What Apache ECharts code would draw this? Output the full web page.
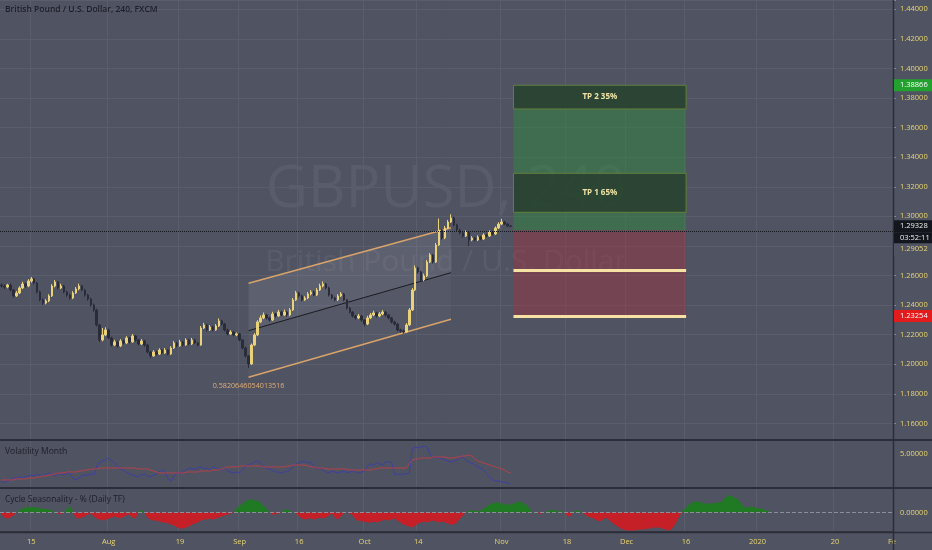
<!DOCTYPE html>
<html><head><meta charset="utf-8">
<script src="https://cdn.jsdelivr.net/npm/echarts/dist/echarts.min.js"></script>
<style>html,body{margin:0;padding:0;background:#505362;}#c{width:932px;height:550px;}</style>
</head><body><div id="c"></div><script>
// ---------- DATA ----------
const slotCount = 300; // half-day slots on the time axis
const timeTickSlots = [10, 36, 60, 80, 100, 122, 140, 168, 190, 210, 230, 254, 280];
const timeTickLabels = ['15', 'Aug', '19', 'Sep', '16', 'Oct', '14', 'Nov', '18', 'Dec', '16', '2020', '20'];

const opens = [
1.2535,1.2529,1.2522,1.2536,1.2502,1.2462,1.2482,1.2516,1.2543,1.2529,
1.2563,1.2577,1.2549,1.2489,1.2435,1.2414,1.2428,1.2462,1.2529,1.2556,
1.2516,1.2529,1.2489,1.2468,1.2448,1.2482,1.2509,1.2529,1.2502,1.2468,
1.2441,1.2401,1.2367,1.2266,1.2164,1.2198,1.2232,1.2178,1.2130,1.2151,
1.2124,1.2157,1.2144,1.2178,1.2151,1.2191,1.2164,1.2137,1.2157,1.2130,
1.2083,1.2056,1.2083,1.2069,1.2096,1.2076,1.2096,1.2069,1.2110,1.2144,
1.2124,1.2151,1.2130,1.2164,1.2137,1.2164,1.2144,1.2130,1.2245,1.2266,
1.2232,1.2252,1.2232,1.2259,1.2293,1.2272,1.2232,1.2205,1.2218,1.2198,
1.2205,1.2164,1.2110,1.2056,1.2002,1.2130,1.2198,1.2286,1.2313,1.2333,
1.2313,1.2299,1.2340,1.2326,1.2353,1.2333,1.2353,1.2333,1.2367,1.2435,
1.2482,1.2462,1.2435,1.2448,1.2475,1.2489,1.2468,1.2502,1.2529,1.2543,
1.2516,1.2468,1.2448,1.2435,1.2462,1.2475,1.2435,1.2380,1.2353,1.2326,
1.2313,1.2326,1.2299,1.2272,1.2313,1.2333,1.2347,1.2326,1.2340,1.2353,
1.2333,1.2313,1.2286,1.2272,1.2232,1.2225,1.2218,1.2266,1.2367,1.2502,
1.2651,1.2624,1.2570,1.2597,1.2691,1.2739,1.2691,1.2806,1.2908,1.2854,
1.2921,1.2962,1.2989,1.2942,1.2908,1.2888,1.2867,1.2894,1.2840,1.2854,
1.2840,1.2860,1.2847,1.2874,1.2867,1.2894,1.2881,1.2921,1.2948,1.2962,
1.2948,1.2935];
const closes = [
1.2529,1.2522,1.2536,1.2502,1.2462,1.2482,1.2516,1.2543,1.2529,1.2563,
1.2577,1.2549,1.2489,1.2435,1.2414,1.2428,1.2462,1.2529,1.2556,1.2516,
1.2529,1.2489,1.2468,1.2448,1.2482,1.2509,1.2529,1.2502,1.2468,1.2441,
1.2401,1.2367,1.2266,1.2164,1.2198,1.2232,1.2178,1.2130,1.2151,1.2124,
1.2157,1.2144,1.2178,1.2151,1.2191,1.2164,1.2137,1.2157,1.2130,1.2083,
1.2056,1.2083,1.2069,1.2096,1.2076,1.2096,1.2069,1.2110,1.2144,1.2124,
1.2151,1.2130,1.2164,1.2137,1.2164,1.2144,1.2130,1.2245,1.2266,1.2232,
1.2252,1.2232,1.2259,1.2293,1.2272,1.2232,1.2205,1.2218,1.2198,1.2205,
1.2164,1.2110,1.2056,1.2002,1.2130,1.2198,1.2286,1.2313,1.2333,1.2313,
1.2299,1.2340,1.2326,1.2353,1.2333,1.2353,1.2333,1.2367,1.2435,1.2482,
1.2462,1.2435,1.2448,1.2475,1.2489,1.2468,1.2502,1.2529,1.2543,1.2516,
1.2468,1.2448,1.2435,1.2462,1.2475,1.2435,1.2380,1.2353,1.2326,1.2313,
1.2326,1.2299,1.2272,1.2313,1.2333,1.2347,1.2326,1.2340,1.2353,1.2333,
1.2313,1.2286,1.2272,1.2232,1.2225,1.2218,1.2266,1.2367,1.2502,1.2651,
1.2624,1.2570,1.2597,1.2691,1.2739,1.2691,1.2806,1.2908,1.2854,1.2921,
1.2962,1.2989,1.2942,1.2908,1.2888,1.2867,1.2894,1.2840,1.2854,1.2840,
1.2860,1.2847,1.2874,1.2867,1.2894,1.2881,1.2921,1.2948,1.2962,1.2948,
1.2935,1.29328];
const highs = [
1.2548,1.2541,1.2544,1.2545,1.2510,1.2495,1.2527,1.2558,1.2552,1.2575,
1.2590,1.2584,1.2556,1.2497,1.2445,1.2440,1.2474,1.2541,1.2570,1.2563,
1.2545,1.2536,1.2498,1.2477,1.2494,1.2522,1.2545,1.2537,1.2510,1.2476,
1.2448,1.2410,1.2375,1.2272,1.2245,1.2250,1.2240,1.2186,1.2165,1.2160,
1.2170,1.2168,1.2190,1.2185,1.2204,1.2198,1.2172,1.2170,1.2165,1.2138,
1.2090,1.2095,1.2093,1.2108,1.2104,1.2110,1.2103,1.2122,1.2158,1.2152,
1.2165,1.2160,1.2176,1.2170,1.2178,1.2172,1.2150,1.2258,1.2280,1.2274,
1.2265,1.2260,1.2272,1.2310,1.2300,1.2280,1.2240,1.2230,1.2226,1.2215,
1.2212,1.2170,1.2118,1.2062,1.2140,1.2210,1.2298,1.2330,1.2350,1.2342,
1.2322,1.2355,1.2348,1.2368,1.2362,1.2370,1.2360,1.2380,1.2448,1.2496,
1.2490,1.2470,1.2460,1.2488,1.2502,1.2497,1.2515,1.2545,1.2560,1.2550,
1.2524,1.2476,1.2456,1.2474,1.2488,1.2482,1.2442,1.2388,1.2360,1.2334,
1.2340,1.2333,1.2306,1.2328,1.2346,1.2362,1.2355,1.2352,1.2366,1.2361,
1.2340,1.2320,1.2294,1.2280,1.2240,1.2236,1.2278,1.2380,1.2515,1.2668,
1.2660,1.2632,1.2612,1.2705,1.2752,1.2746,1.2820,1.2985,1.2915,1.2935,
1.2976,1.3014,1.2998,1.2950,1.2916,1.2895,1.2905,1.2900,1.2866,1.2862,
1.2872,1.2868,1.2885,1.2882,1.2905,1.2902,1.2932,1.2960,1.2983,1.2970,
1.2955,1.2942];
const lows = [
1.2518,1.2509,1.2514,1.2493,1.2450,1.2455,1.2474,1.2508,1.2517,1.2521,
1.2552,1.2540,1.2478,1.2426,1.2402,1.2405,1.2420,1.2455,1.2520,1.2506,
1.2508,1.2480,1.2456,1.2437,1.2440,1.2475,1.2500,1.2494,1.2457,1.2430,
1.2390,1.2355,1.2255,1.2150,1.2155,1.2190,1.2170,1.2118,1.2122,1.2112,
1.2116,1.2135,1.2136,1.2140,1.2145,1.2152,1.2128,1.2130,1.2118,1.2072,
1.2040,1.2050,1.2060,1.2062,1.2068,1.2070,1.2060,1.2063,1.2104,1.2115,
1.2118,1.2120,1.2125,1.2128,1.2130,1.2136,1.2120,1.2125,1.2238,1.2222,
1.2225,1.2224,1.2226,1.2252,1.2262,1.2222,1.2196,1.2198,1.2188,1.2190,
1.2155,1.2100,1.2045,1.1975,1.1995,1.2122,1.2190,1.2278,1.2305,1.2302,
1.2288,1.2292,1.2316,1.2320,1.2324,1.2326,1.2322,1.2325,1.2360,1.2428,
1.2452,1.2425,1.2428,1.2440,1.2466,1.2460,1.2461,1.2495,1.2520,1.2506,
1.2458,1.2438,1.2425,1.2428,1.2455,1.2426,1.2370,1.2343,1.2316,1.2302,
1.2305,1.2288,1.2255,1.2265,1.2305,1.2325,1.2316,1.2318,1.2332,1.2322,
1.2303,1.2276,1.2262,1.2222,1.2214,1.2208,1.2212,1.2260,1.2360,1.2495,
1.2612,1.2560,1.2562,1.2590,1.2684,1.2680,1.2685,1.2800,1.2842,1.2846,
1.2914,1.2955,1.2932,1.2898,1.2878,1.2855,1.2860,1.2800,1.2832,1.2830,
1.2833,1.2838,1.2840,1.2858,1.2860,1.2872,1.2874,1.2914,1.2940,1.2940,
1.2926,1.2926];

// Volatility Month pane
const volatility = [
0.89,0.89,1.04,1.19,1.48,1.48,1.63,1.48,1.63,1.78,1.93,1.78,2.08,1.78,1.78,
2.08,2.23,1.93,1.78,2.23,2.08,1.93,2.23,2.23,1.48,1.19,1.48,1.78,1.93,1.93,2.08,1.93,3.26,
3.86,4.01,4.15,4.45,4.01,3.71,3.12,2.82,2.67,2.37,
2.08,1.93,1.78,1.63,1.93,2.08,1.78,1.63,1.93,2.08,2.37,2.67,2.37,1.34,1.04,1.78,
2.23,2.23,2.37,2.67,2.97,2.82,2.82,2.97,
3.12,2.82,2.97,2.67,3.12,2.97,2.82,2.67,2.97,2.52,2.37,2.23,2.37,2.23,2.67,
3.26,3.41,3.56,3.86,4.01,3.71,3.12,2.97,2.82,2.67,2.37,2.37,2.23,2.37,2.52,2.67,
3.26,3.56,3.86,3.86,4.01,3.71,3.86,3.12,2.82,2.97,2.67,
2.37,2.23,2.52,2.37,2.23,2.37,2.52,2.23,2.37,2.52,2.37,2.23,2.37,2.52,
3.26,3.56,3.41,3.71,3.56,3.41,3.86,3.86,3.86,2.08,2.08,1.93,2.08,2.08,2.23,
5.79,6.08,5.93,6.08,6.23,6.08,4.90,4.45,4.60,4.45,4.30,4.15,4.01,3.86,
4.01,4.15,4.45,4.60,4.15,3.86,3.71,3.41,3.12,2.97,2.67,2.08,1.63,
1.19,1.04,1.04,0.89,0.89,0.74,0.59];
const volatilityAvg = [
1.19,1.19,1.19,1.19,1.19,1.34,1.34,1.34,1.34,1.48,1.48,1.48,1.63,1.63,1.78,1.78,
1.93,1.93,2.08,2.23,2.23,2.23,2.37,2.37,2.37,2.37,2.52,2.52,2.67,2.67,2.82,2.82,2.82,
2.97,2.97,2.97,2.97,2.97,2.97,2.97,2.97,2.97,2.97,2.97,2.97,2.97,
2.82,2.82,2.82,2.82,2.67,2.52,2.37,2.23,2.23,2.23,2.23,2.23,2.23,2.23,2.23,2.23,
2.37,2.37,2.37,2.37,2.37,2.52,2.52,2.52,2.52,2.67,2.67,2.67,2.82,2.97,
3.12,3.12,3.12,3.12,3.26,3.26,3.26,3.26,3.26,3.26,3.26,3.26,
3.12,3.12,3.12,3.12,3.12,3.12,3.12,3.12,3.26,3.26,3.41,3.41,3.41,3.41,3.41,
3.26,3.12,3.12,2.97,2.97,2.97,2.82,2.82,2.82,2.82,2.82,2.82,2.82,2.82,
2.67,2.67,2.67,2.67,2.67,2.67,2.67,2.67,2.82,2.82,
2.97,2.97,2.97,2.97,2.97,2.97,2.97,2.97,2.97,2.97,3.56,4.15,4.30,4.30,
4.45,4.45,4.45,4.45,4.60,4.60,4.60,4.60,4.60,4.45,4.45,4.45,4.60,4.60,4.75,4.75,
4.90,4.75,4.30,4.01,3.86,3.71,3.56,3.41,3.26,3.12,2.97,2.82,2.67,2.37,2.23];

// Cycle Seasonality - % pane
const seasonality = [
-0.1,-0.25,-0.3,-0.25,-0.15,0,0.1,0.2,0.25,0.25,
0.28,0.25,0.25,0.2,0.2,0.18,0.15,0.1,0,-0.05,
-0.1,0,0.2,0.3,0.05,-0.25,-0.3,-0.25,-0.2,-0.1,
-0.05,-0.2,-0.3,-0.35,-0.4,-0.35,-0.3,-0.25,-0.2,-0.25,
-0.3,-0.2,-0.15,-0.1,-0.25,-0.3,0,0.15,0,-0.25,
-0.35,-0.4,-0.4,-0.45,-0.5,-0.5,-0.55,-0.6,-0.65,-0.75,
-0.8,-0.8,-0.75,-0.7,-0.6,-0.55,-0.5,-0.4,-0.35,-0.35,
-0.3,-0.35,-0.3,-0.25,-0.2,-0.15,-0.1,-0.05,0,0.2,
0.35,0.45,0.55,0.65,0.65,0.6,0.6,0.5,0.35,0.2,
0,-0.1,-0.1,-0.05,0,0.15,0.15,0.1,0,-0.05,
-0.2,-0.3,-0.35,-0.3,-0.3,-0.35,-0.3,-0.25,-0.3,-0.25,
-0.15,-0.05,-0.25,-0.35,-0.2,-0.05,0,-0.05,-0.15,-0.35,
-0.4,-0.45,-0.45,-0.5,-0.5,-0.45,-0.5,-0.45,-0.4,-0.35,
-0.4,-0.35,-0.3,-0.4,-0.5,-0.6,-0.65,-0.7,-0.75,-0.65,
-0.55,-0.5,-0.45,-0.5,-0.45,-0.4,-0.45,-0.5,-0.45,-0.5,
-0.55,-0.6,-0.6,-0.5,-0.3,-0.15,0,0.1,0.1,0.1,
0.05,0.1,0.2,0.3,0.4,0.45,0.5,0.5,0.45,0.4,
0.4,0.4,0.45,0.5,0.55,0.5,0.4,0.3,0.05,0,
0,-0.1,0,0.05,0.1,0.15,0.1,0.05,0.1,0,
-0.15,-0.2,0,0.1,0.1,0,-0.1,-0.2,-0.25,-0.3,
-0.4,-0.45,-0.35,-0.25,-0.35,-0.5,-0.6,-0.7,-0.8,-0.85,
-0.9,-0.9,-0.9,-0.9,-0.85,-0.85,-0.85,-0.8,-0.8,-0.75,
-0.75,-0.75,-0.8,-0.85,-0.9,-0.85,-0.65,-0.4,-0.1,0.1,
0.25,0.4,0.5,0.55,0.55,0.5,0.45,0.45,0.45,0.45,
0.5,0.5,0.55,0.7,0.85,0.85,0.75,0.7,0.55,0.35,
0.25,0.25,0.3,0.25,0.2,0.2,0.15,0.1,0.05,0];

// Long position tool
const positionSlots = [172, 230];
const tp2Top = 1.38866, tp2Bottom = 1.3726;
const tp1Top = 1.3291, tp1Bottom = 1.30273;
const entryPrice = 1.29052, midStop = 1.2635, stopPrice = 1.23254;
const lastPrice = 1.29328, clockText = '03:52:11';

// Regression trend channel
const channelSlots = [83, 151];
const channelUpper = [1.2547, 1.2923];
const channelMid = [1.2227, 1.2619];
const channelLower = [1.1912, 1.2304];
const channelLabel = '0.5820646054013516';

// ---------- CHART ----------
const FONT = "'Open Sans', sans-serif";
const YEL = '#e9d56e';
const GRID = '#5a5d6c';
const SEP = '#2b2e39';
const slots = Array.from({length: slotCount}, (_, i) => String(i));
const tickMap = {};
timeTickSlots.forEach((s, k) => { tickMap[s] = timeTickLabels[k]; });
const candleData = closes.map((c, i) => [opens[i], c, lows[i], highs[i]]);
const seasonPos = seasonality.map(v => v > 0 ? v : 0);
const seasonNeg = seasonality.map(v => v < 0 ? v : 0);

const chart = echarts.init(document.getElementById('c'));
const xHidden = (g) => ({gridIndex: g, type: 'category', data: slots, show: false});

const option = {
  backgroundColor: '#505362',
  animation: false,
  grid: [
    {left: 0, right: 39, top: 0, bottom: 18},
    {left: 0, right: 39, top: 0, height: 423.4},
    {left: 0, right: 39, top: 440, height: 48},
    {left: 0, right: 39, top: 488, height: 44.5}
  ],
  xAxis: [
    {gridIndex: 0, type: 'category', data: slots,
     axisLine: {show: true, lineStyle: {color: SEP, width: 1.5}},
     axisTick: {show: false},
     axisLabel: {interval: (i) => tickMap[i] !== undefined, formatter: (v, i) => tickMap[i] || '',
                 color: YEL, fontSize: 7.5, fontFamily: FONT, margin: 6},
     splitLine: {show: true, interval: (i) => tickMap[i] !== undefined, lineStyle: {color: GRID, width: 1}}},
    xHidden(1), xHidden(2), xHidden(3)
  ],
  yAxis: [
    {gridIndex: 0, type: 'value', show: false},
    {gridIndex: 1, type: 'value', position: 'right', min: 1.16, max: 1.44629, interval: 0.02,
     axisLine: {show: false}, axisTick: {show: true, length: 3, lineStyle: {color: '#8a8c96'}},
     axisLabel: {color: YEL, fontSize: 7.5, fontFamily: FONT, margin: 7,
                 formatter: v => v > 1.441 ? '' : v.toFixed(5)},
     splitLine: {show: true, lineStyle: {color: GRID}}},
    {gridIndex: 2, type: 'value', position: 'right', min: 0, max: 7.12, interval: 5,
     axisLine: {show: false}, axisTick: {show: false},
     axisLabel: {color: YEL, fontSize: 7.5, fontFamily: FONT, margin: 7,
                 formatter: v => v === 5 ? '5.00000' : ''},
     splitLine: {show: false}},
    {gridIndex: 3, type: 'value', position: 'right', min: -1, max: 1.225, interval: 1,
     axisLine: {show: false}, axisTick: {show: false},
     axisLabel: {color: YEL, fontSize: 7.5, fontFamily: FONT, margin: 7,
                 formatter: v => v === 0 ? '0.00000' : ''},
     splitLine: {show: false}}
  ],
  series: [
    {type: 'custom', xAxisIndex: 1, yAxisIndex: 1, z: 1, silent: true,
     encode: {x: [0, 1], y: [2, 3, 4, 5, 6, 7]},
     data: [[channelSlots[0], channelSlots[1], channelUpper[0], channelUpper[1],
             channelMid[0], channelMid[1], channelLower[0], channelLower[1]]],
     renderItem: (params, api) => {
       const x0 = api.value(0), x1 = api.value(1);
       const u0 = api.coord([x0, api.value(2)]), u1 = api.coord([x1, api.value(3)]);
       const m0 = api.coord([x0, api.value(4)]), m1 = api.coord([x1, api.value(5)]);
       const l0 = api.coord([x0, api.value(6)]), l1 = api.coord([x1, api.value(7)]);
       const seg = (a, b, color, w) => ({type: 'line', shape: {x1: a[0], y1: a[1], x2: b[0], y2: b[1]},
                                         style: {stroke: color, lineWidth: w}});
       return {type: 'group', children: [
         {type: 'polygon', shape: {points: [u0, u1, m1, m0]}, style: {fill: 'rgba(255,255,255,0.08)'}},
         {type: 'polygon', shape: {points: [m0, m1, l1, l0]}, style: {fill: 'rgba(255,255,255,0.03)'}},
         seg(u0, u1, '#d9a36a', 1.5),
         seg(m0, m1, '#1b1c22', 1),
         seg(l0, l1, '#d9a36a', 1.5),
         {type: 'text', style: {text: channelLabel, x: l0[0], y: l0[1] + 9, fill: '#e3ad74',
                                font: '7.2px ' + FONT, align: 'center', verticalAlign: 'middle'}}
       ]};
     }},
    {type: 'candlestick', xAxisIndex: 1, yAxisIndex: 1, z: 3, barWidth: 2, data: candleData,
     itemStyle: {color: '#ead27a', color0: '#2a2c39', borderColor: '#ead27a', borderColor0: '#2a2c39', borderWidth: 1},
     markArea: {silent: true, data: [
       [{xAxis: positionSlots[0], yAxis: entryPrice, itemStyle: {color: 'rgba(48,135,62,0.5)'}},
        {xAxis: positionSlots[1], yAxis: tp2Top}],
       [{xAxis: positionSlots[0], yAxis: stopPrice, itemStyle: {color: 'rgba(170,48,62,0.42)'}},
        {xAxis: positionSlots[1], yAxis: entryPrice}],
       [{xAxis: positionSlots[0], yAxis: tp2Bottom,
         itemStyle: {color: 'rgba(34,52,40,0.72)', borderColor: '#62803e', borderWidth: 1},
         label: {show: true, position: 'inside', formatter: 'TP 2 35%', color: '#f1e4a6', fontSize: 8,
                 fontWeight: 'bold', fontFamily: FONT}},
        {xAxis: positionSlots[1], yAxis: tp2Top}],
       [{xAxis: positionSlots[0], yAxis: tp1Bottom,
         itemStyle: {color: 'rgba(34,52,40,0.72)', borderColor: '#62803e', borderWidth: 1},
         label: {show: true, position: 'inside', formatter: 'TP 1 65%', color: '#f1e4a6', fontSize: 8,
                 fontWeight: 'bold', fontFamily: FONT}},
        {xAxis: positionSlots[1], yAxis: tp1Top}]
     ]},
     markLine: {silent: true, symbol: ['none', 'none'], label: {show: false}, data: [
       {yAxis: lastPrice, lineStyle: {type: 'dotted', color: '#15171e', width: 1}},
       [{xAxis: positionSlots[0], yAxis: midStop, lineStyle: {type: 'solid', color: '#f6e2a2', width: 3}},
        {xAxis: positionSlots[1], yAxis: midStop}],
       [{xAxis: positionSlots[0], yAxis: stopPrice, lineStyle: {type: 'solid', color: '#f6e2a2', width: 3}},
        {xAxis: positionSlots[1], yAxis: stopPrice}]
     ]}},
    {type: 'line', xAxisIndex: 2, yAxisIndex: 2, data: volatility, symbol: 'none',
     lineStyle: {color: '#3c40a3', width: 1}},
    {type: 'line', xAxisIndex: 2, yAxisIndex: 2, data: volatilityAvg, symbol: 'none',
     lineStyle: {color: '#b8404a', width: 1}},
    {type: 'line', xAxisIndex: 3, yAxisIndex: 3, data: seasonPos, symbol: 'none',
     lineStyle: {width: 0}, areaStyle: {color: '#207a24', opacity: 1},
     markLine: {silent: true, symbol: ['none', 'none'], label: {show: false},
                data: [{yAxis: 0}], lineStyle: {type: 'dashed', color: '#8c8f99', width: 1}}},
    {type: 'line', xAxisIndex: 3, yAxisIndex: 3, data: seasonNeg, symbol: 'none',
     lineStyle: {width: 0}, areaStyle: {color: '#c51f27', opacity: 1}}
  ]
};
chart.setOption(option);

// ---------- overlays (watermark, titles, separators, price badges) ----------
const py = p => chart.convertToPixel({yAxisIndex: 1}, p);
const badge = (y, text, bg, color) => ([
  {type: 'rect', z: 100, shape: {x: 894, y: y - 6, width: 38, height: 12}, style: {fill: bg}},
  {type: 'text', z: 101, style: {text: text, x: 900, y: y, fill: color, font: '7.5px ' + FONT, verticalAlign: 'middle'}}
]);
const yLast = py(lastPrice);
const graphics = [
  {type: 'text', z: -5, silent: true, style: {text: 'GBPUSD, 240', x: 446, y: 190, align: 'center', verticalAlign: 'middle',
    fill: 'rgba(255,255,255,0.055)', font: '500 58px ' + FONT}},
  {type: 'text', z: -5, silent: true, style: {text: 'British Pound / U.S. Dollar', x: 446, y: 262, align: 'center', verticalAlign: 'middle',
    fill: 'rgba(255,255,255,0.055)', font: '30px ' + FONT}},
  {type: 'text', z: 50, style: {text: 'British Pound / U.S. Dollar, 240, FXCM', x: 5, y: 10, verticalAlign: 'middle',
    fill: '#1c1e28', font: '600 8.5px ' + FONT}},
  {type: 'text', z: 50, style: {text: 'Volatility Month', x: 5, y: 452, verticalAlign: 'middle',
    fill: '#1c1e28', font: '8.5px ' + FONT}},
  {type: 'text', z: 50, style: {text: 'Cycle Seasonality - % (Daily TF)', x: 5, y: 500, verticalAlign: 'middle',
    fill: '#1c1e28', font: '8.5px ' + FONT}},
  {type: 'line', z: 60, shape: {x1: 0, y1: 440, x2: 932, y2: 440}, style: {stroke: SEP, lineWidth: 2}},
  {type: 'line', z: 60, shape: {x1: 0, y1: 488, x2: 932, y2: 488}, style: {stroke: SEP, lineWidth: 2}},
  {type: 'line', z: 60, shape: {x1: 0, y1: 532.5, x2: 932, y2: 532.5}, style: {stroke: SEP, lineWidth: 1.5}},
  {type: 'text', z: 40, style: {text: 'Fe', x: 888, y: 542, verticalAlign: 'middle', fill: YEL, font: '7.5px ' + FONT}},
  {type: 'line', z: 60, shape: {x1: 893.5, y1: 0, x2: 893.5, y2: 550}, style: {stroke: SEP, lineWidth: 1.5}},
  ...badge(py(tp2Top), tp2Top.toFixed(5), '#22a12f', '#ffffff'),
  ...badge(yLast, lastPrice.toFixed(5), '#14161e', '#f2f2f2'),
  ...badge(yLast + 12, clockText, '#14161e', '#f2f2f2'),
  ...badge(yLast + 23, entryPrice.toFixed(5), '#505362', YEL),
  ...badge(py(stopPrice), stopPrice.toFixed(5), '#e31b1d', '#ffffff')
];
chart.setOption({graphic: graphics});
</script></body></html>
